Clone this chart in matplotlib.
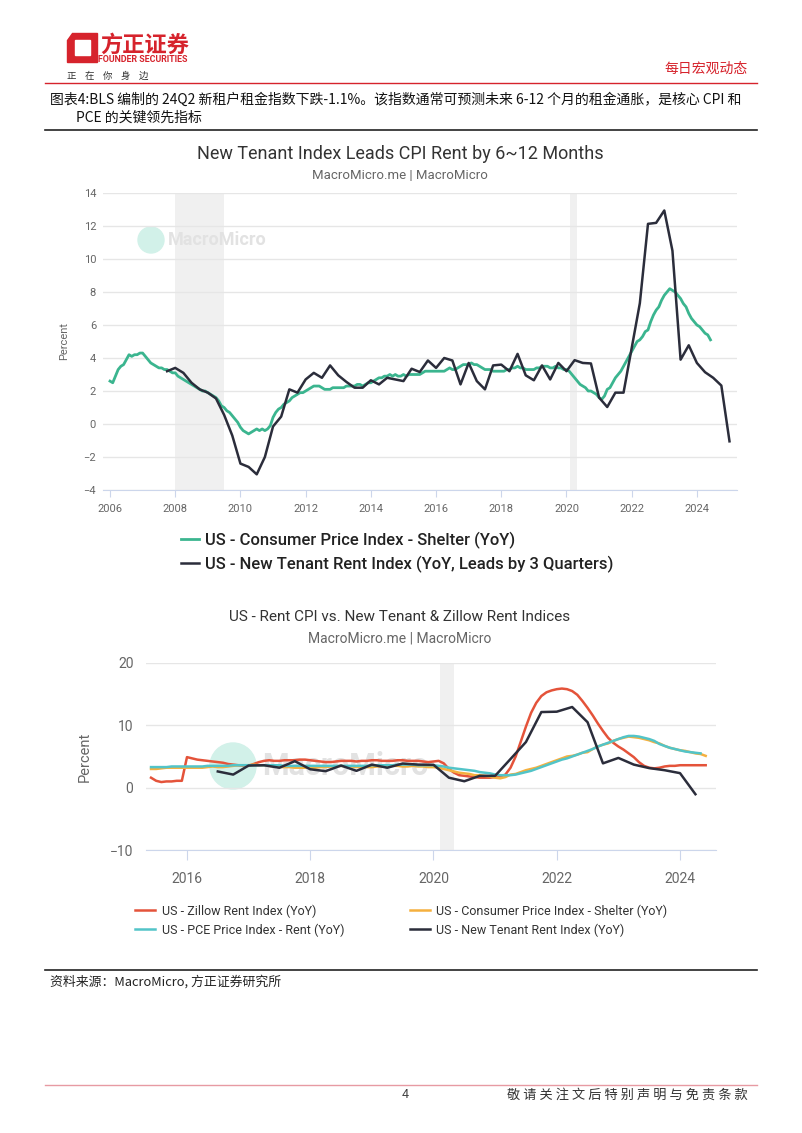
import numpy as np
import matplotlib
matplotlib.use("Agg")
import matplotlib.pyplot as plt
from matplotlib.patches import Polygon, Ellipse
from matplotlib.lines import Line2D

plt.rcParams['font.family'] = ['Roboto', 'Noto Sans CJK SC', 'DejaVu Sans']

# ---- data ----
# CPI shelter YoY, monthly from 2006-01 to 2024-06
cpi_shelter_start = 2006.0
cpi_shelter = [
    2.6, 2.5, 2.9, 3.3, 3.5, 3.6, 3.9, 4.2, 4.1, 4.2, 4.2, 4.3,
    4.3, 4.1, 3.9, 3.7, 3.6, 3.5, 3.4, 3.4, 3.3, 3.3, 3.2, 3.1,
    3.1, 2.9, 2.8, 2.7, 2.6, 2.5, 2.4, 2.3, 2.2, 2.1, 2.0, 2.0,
    1.9, 1.8, 1.7, 1.6, 1.4, 1.1, 1.0, 0.8, 0.7, 0.5, 0.3, 0.1,
    -0.2, -0.4, -0.5, -0.6, -0.5, -0.4, -0.3, -0.4, -0.3, -0.4, -0.3, -0.1,
    0.4, 0.7, 0.9, 1.0, 1.2, 1.3, 1.4, 1.6, 1.7, 1.8, 1.9, 1.9,
    2.0, 2.1, 2.2, 2.3, 2.3, 2.3, 2.2, 2.1, 2.1, 2.1, 2.2, 2.2,
    2.2, 2.2, 2.2, 2.3, 2.3, 2.3, 2.3, 2.4, 2.4, 2.3, 2.4, 2.5,
    2.5, 2.6, 2.7, 2.8, 2.8, 2.9, 2.9, 3.0, 2.9, 3.0, 2.9, 2.9,
    3.0, 2.9, 3.0, 3.0, 3.0, 3.0, 3.0, 3.1, 3.2, 3.2, 3.2, 3.2,
    3.2, 3.2, 3.2, 3.2, 3.3, 3.4, 3.3, 3.3, 3.4, 3.5, 3.6, 3.6,
    3.6, 3.7, 3.6, 3.6, 3.5, 3.4, 3.3, 3.3, 3.3, 3.2, 3.2, 3.2,
    3.2, 3.2, 3.3, 3.3, 3.4, 3.4, 3.5, 3.4, 3.4, 3.3, 3.3, 3.3,
    3.3, 3.4, 3.4, 3.5, 3.5, 3.5, 3.4, 3.4, 3.5, 3.4, 3.4, 3.3,
    3.3, 3.2, 3.0, 2.8, 2.6, 2.4, 2.3, 2.2, 2.0, 2.0, 1.9, 1.8,
    1.6, 1.5, 1.7, 2.1, 2.2, 2.5, 2.8, 3.0, 3.2, 3.5, 3.8, 4.1,
    4.4, 4.7, 5.0, 5.1, 5.3, 5.6, 5.7, 6.2, 6.6, 6.9, 7.1, 7.5,
    7.8, 8.0, 8.2, 8.1, 8.0, 7.8, 7.6, 7.3, 7.1, 6.7, 6.4, 6.2,
    6.0, 5.9, 5.7, 5.5, 5.4, 5.1,
]

# New tenant rent index YoY, quarterly from 2007Q1 to 2024Q2
new_tenant_start = 2007.0
new_tenant = [
    3.2, 3.4, 3.1, 2.5, 2.1, 1.9, 1.55, 0.55, -0.7, -2.4,
    -2.6, -3.05, -2.0, -0.15, 0.45, 2.1, 1.9, 2.7, 3.1, 2.8,
    3.55, 2.95, 2.55, 2.2, 2.2, 2.65, 2.4, 2.8, 2.7, 2.6,
    3.35, 3.15, 3.85, 3.4, 4.0, 3.85, 2.4, 3.7, 2.6, 2.1,
    3.55, 3.6, 3.2, 4.25, 2.95, 2.65, 3.55, 2.7, 3.7, 3.2,
    3.87, 3.7, 3.67, 1.6, 1.03, 1.9, 1.9, 4.6, 7.32, 12.13,
    12.19, 12.94, 10.5, 3.9, 4.77, 3.7, 3.14, 2.8, 2.33, -1.05,
]
lead_quarters = 3

# Zillow rent index YoY, monthly from 2015-06 to 2024-06
zillow_start = 2015 + 5 / 12
zillow = [
    1.6, 1.1, 0.9, 1.0, 1.0, 1.1, 1.1,
    4.9, 4.7, 4.5, 4.4, 4.3, 4.2, 4.1, 4.0, 3.8, 3.7, 3.6, 3.5,
    3.5, 3.8, 4.1, 4.3, 4.4, 4.3, 4.3, 4.4, 4.4, 4.4, 4.5, 4.5,
    4.4, 4.3, 4.2, 4.1, 4.1, 4.2, 4.3, 4.3, 4.3, 4.2, 4.3, 4.3,
    4.4, 4.4, 4.3, 4.3, 4.3, 4.4, 4.4, 4.3, 4.3, 4.3, 4.2, 4.1,
    4.2, 4.3, 3.9, 3.0, 2.4, 2.0, 1.9, 1.8, 1.7, 1.6, 1.6, 1.6,
    1.7, 1.8, 2.1, 3.2, 5.0, 7.4, 9.8, 12.0, 13.6, 14.7, 15.3, 15.6,
    15.8, 15.9, 15.8, 15.5, 14.9, 13.9, 12.8, 11.6, 10.3, 9.1, 8.0, 7.2,
    6.6, 6.1, 5.5, 4.9, 4.1, 3.5, 3.2, 3.1, 3.2, 3.4, 3.5, 3.5,
    3.6, 3.6, 3.6, 3.6, 3.6, 3.6,
]

# PCE price index rent YoY, monthly from 2015-06 to 2024-05
pce_rent_start = 2015 + 5 / 12
pce_rent = [
    3.3, 3.3, 3.3, 3.3, 3.4, 3.4, 3.4,
    3.4, 3.4, 3.4, 3.4, 3.5, 3.5, 3.5, 3.5, 3.5, 3.6, 3.6, 3.6,
    3.6, 3.6, 3.6, 3.6, 3.6, 3.6, 3.6, 3.5, 3.5, 3.5, 3.5, 3.5,
    3.5, 3.5, 3.5, 3.5, 3.5, 3.5, 3.5, 3.5, 3.5, 3.5, 3.5, 3.5,
    3.6, 3.6, 3.6, 3.6, 3.6, 3.7, 3.7, 3.7, 3.7, 3.6, 3.6, 3.6,
    3.6, 3.5, 3.4, 3.2, 3.1, 3.0, 2.9, 2.8, 2.7, 2.5, 2.4, 2.3,
    2.1, 2.0, 2.0, 2.0, 2.1, 2.3, 2.5, 2.7, 3.0, 3.3, 3.6, 3.9,
    4.2, 4.5, 4.7, 5.0, 5.3, 5.6, 5.9, 6.2, 6.6, 6.9, 7.2, 7.5,
    7.8, 8.1, 8.3, 8.3, 8.2, 8.0, 7.8, 7.5, 7.0, 6.7, 6.4, 6.2,
    6.0, 5.8, 5.7, 5.6, 5.5,
]

recessions = [(2008.0, 2009.5), (2020.1, 2020.33)]

c_green = '#3bb58f'
c_dark = '#2b2d3b'
c_red = '#e4533a'
c_orange = '#f5b03e'
c_teal = '#52c4c8'
c_brand = '#d6232c'

W, H = 802, 1133
def fx(x):
    return x / W
def fy(y):
    return 1 - y / H

fig = plt.figure(figsize=(8.02, 11.33), dpi=100)

# ---- page header ----
logo_outer = [(72, 33), (97, 33), (97, 62), (67, 62), (67, 40)]
logo_inner = [(75, 40), (90, 40), (90, 55), (75, 55)]
fig.patches.append(Polygon([(fx(x), fy(y)) for x, y in logo_outer], closed=True,
                           transform=fig.transFigure, color=c_brand))
fig.patches.append(Polygon([(fx(x), fy(y)) for x, y in logo_inner], closed=True,
                           transform=fig.transFigure, color='white'))
fig.text(fx(100), fy(45), '方正证券', family=['Noto Sans CJK SC'], weight='bold',
         size=16, color=c_brand, va='center', ha='left')
fig.text(fx(98), fy(59), 'FOUNDER SECURITIES', weight='bold', size=6.4,
         color=c_brand, va='center', ha='left')
fig.text(fx(67), fy(76), '正    在    你    身    边', family=['Noto Sans CJK SC'],
         size=6.8, color='#333333', va='center', ha='left')
fig.text(fx(748), fy(69), '每日宏观动态', family=['Noto Sans CJK SC'], size=10,
         color=c_brand, va='center', ha='right')
fig.lines.append(Line2D([fx(45), fx(757)], [fy(83), fy(83)], color=c_brand, lw=1,
                        transform=fig.transFigure))
fig.text(fx(50), fy(100), '图表4:BLS 编制的 24Q2 新租户租金指数下跌-1.1%。该指数通常可预测未来 6-12 个月的租金通胀，是核心 CPI 和',
         family=['Noto Sans CJK SC', 'DejaVu Sans'], size=10, color='#111111', va='center', ha='left')
fig.text(fx(76), fy(118), 'PCE 的关键领先指标', family=['Noto Sans CJK SC', 'DejaVu Sans'],
         size=10, color='#111111', va='center', ha='left')
fig.lines.append(Line2D([fx(45), fx(757)], [fy(130), fy(130)], color='#222222', lw=1.2,
                        transform=fig.transFigure))


def style_axis(ax, xlim, ylim, yticks, xticks, fs, tick_len, pad):
    ax.set_xlim(*xlim)
    ax.set_ylim(*ylim)
    ax.set_yticks(yticks)
    ax.set_xticks(xticks)
    ax.set_xticklabels([str(t) for t in xticks])
    for s in ['top', 'right', 'left']:
        ax.spines[s].set_visible(False)
    ax.spines['bottom'].set_color('#ccd6eb')
    ax.grid(axis='y', color='#e6e6e6', lw=1, zorder=0)
    ax.tick_params(axis='y', length=0, labelsize=fs, labelcolor='#666666', pad=pad)
    ax.tick_params(axis='x', length=tick_len, color='#ccd6eb', labelsize=fs,
                   labelcolor='#666666', pad=pad)
    for a, b in recessions:
        ax.axvspan(a, b, color='#f0f0f0', lw=0, zorder=0.5)


def watermark(ax, cx, cy, r, tx, size):
    ax.add_artist(Ellipse((fx(cx), fy(cy)), 2 * r / W, 2 * r / H, transform=fig.transFigure,
                          color='#d2f1e9', zorder=1, clip_on=False))
    ax.text(fx(tx), fy(cy), 'MacroMicro', size=size, color='#e2e2e2', transform=fig.transFigure,
            va='center', ha='left', weight='bold', zorder=1)


# ---- chart 1 ----
fig.text(fx(400), fy(154), 'New Tenant Index Leads CPI Rent by 6~12 Months',
         ha='center', va='center', size=13, color='#333333')
fig.text(fx(400), fy(176), 'MacroMicro.me | MacroMicro', ha='center', va='center',
         size=9.5, color='#666666')

ax1 = fig.add_axes([fx(103), fy(490), fx(737) - fx(103), fy(193) - fy(490)])
ax1.patch.set_alpha(0)
style_axis(ax1, (2005.785, 2025.23), (-4, 14), range(-4, 15, 2), range(2006, 2025, 2),
           8, 5, 5)
ax1.set_ylabel('Percent', color='#666666', size=8, labelpad=10)
watermark(ax1, 151, 240, 13, 168, 13)

x_cpi = cpi_shelter_start + np.arange(len(cpi_shelter)) / 12
x_nt = new_tenant_start + (np.arange(len(new_tenant)) + lead_quarters) / 4
ax1.plot(x_cpi, cpi_shelter, color=c_green, lw=2, zorder=3,
         label='US - Consumer Price Index - Shelter (YoY)')
ax1.plot(x_nt, new_tenant, color=c_dark, lw=1.8, zorder=4,
         label='US - New Tenant Rent Index (YoY, Leads by 3 Quarters)')
ax1.legend(loc='upper left', bbox_to_anchor=(fx(166), fy(517)), bbox_transform=fig.transFigure,
           frameon=False, prop={'size': 12, 'weight': 'medium'}, handlelength=1.1,
           handletextpad=0.35, labelspacing=0.4, labelcolor='#222222')

# ---- chart 2 ----
fig.text(fx(400), fy(617), 'US - Rent CPI vs. New Tenant & Zillow Rent Indices',
         ha='center', va='center', size=11, color='#333333')
fig.text(fx(400), fy(639), 'MacroMicro.me | MacroMicro', ha='center', va='center',
         size=10, color='#666666')

ax2 = fig.add_axes([fx(146), fy(850), fx(716) - fx(146), fy(663) - fy(850)])
ax2.patch.set_alpha(0)
style_axis(ax2, (2015.335, 2024.584), (-10, 20), range(-10, 21, 10), range(2016, 2025, 2),
           10, 7, 9)
ax2.set_ylabel('Percent', color='#666666', size=10.5, labelpad=13)
watermark(ax2, 233, 766, 23, 262, 22)

start_nt2 = int(round((2016.5 - new_tenant_start) * 4))
x_z = zillow_start + np.arange(len(zillow)) / 12
x_p = pce_rent_start + np.arange(len(pce_rent)) / 12
m = x_cpi >= zillow_start - 1e-6
x_nt2 = new_tenant_start + np.arange(len(new_tenant)) / 4
h_z, = ax2.plot(x_z, zillow, color=c_red, lw=1.8, zorder=3, label='US - Zillow Rent Index (YoY)')
h_c, = ax2.plot(x_cpi[m], np.array(cpi_shelter)[m], color=c_orange, lw=1.8, zorder=3,
                label='US - Consumer Price Index - Shelter (YoY)')
h_p, = ax2.plot(x_p, pce_rent, color=c_teal, lw=1.8, zorder=3.5,
                label='US - PCE Price Index - Rent (YoY)')
h_n, = ax2.plot(x_nt2[start_nt2:], new_tenant[start_nt2:], color=c_dark, lw=1.8, zorder=4,
                label='US - New Tenant Rent Index (YoY)')
ax2.legend(handles=[h_z, h_p, h_c, h_n], ncol=2, loc='upper left',
           bbox_to_anchor=(fx(124), fy(893)), bbox_transform=fig.transFigure,
           frameon=False, fontsize=9, handlelength=1.6, handletextpad=0.5,
           labelspacing=0.45, columnspacing=5.3, labelcolor='#333333')

# ---- footer ----
fig.lines.append(Line2D([fx(45), fx(757)], [fy(970), fy(970)], color='#222222', lw=1.2,
                        transform=fig.transFigure))
fig.text(fx(50), fy(982), '资料来源：MacroMicro, 方正证券研究所', family=['Noto Sans CJK SC', 'DejaVu Sans'],
         style='italic', size=9.3, color='#222222', va='center', ha='left')
fig.lines.append(Line2D([fx(45), fx(757)], [fy(1085), fy(1085)], color='#e79aa3', lw=1,
                        transform=fig.transFigure))
fig.text(fx(405), fy(1095), '4', size=9, color='#444444', va='center', ha='center')
fig.text(fx(748), fy(1095), '敬 请 关 注 文 后 特 别 声 明 与 免 责 条 款',
         family=['Noto Sans CJK SC'], size=9.5, color='#333333', va='center', ha='right')

fig.savefig('out.png', dpi=100)
